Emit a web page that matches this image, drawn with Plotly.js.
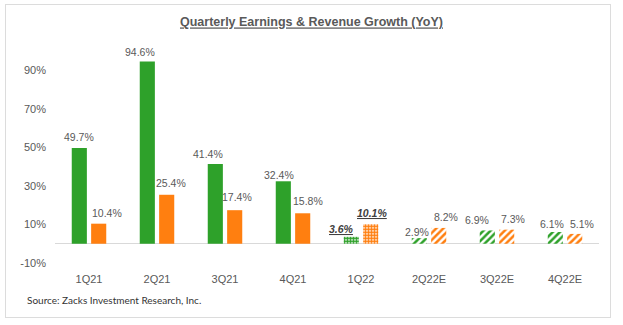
<!DOCTYPE html>
<html>
<head>
<meta charset="utf-8">
<script src="https://cdn.plot.ly/plotly-3.0.1.min.js"></script>
<style>
  html, body { margin: 0; padding: 0; background: #ffffff; }
  #wrap { position: relative; width: 623px; height: 325px; overflow: hidden; }
  #frame { position: absolute; left: 5px; top: 4px; width: 606px; height: 314px; border: 1px solid #dcdcdc; box-sizing: border-box; }
  #chart { position: absolute; left: 0; top: 0; width: 623px; height: 325px; }
</style>
</head>
<body>
<div id="wrap">
  <div id="frame"></div>
  <div id="chart"></div>
</div>
<script>
// ---- data ----
const quarters = ["1Q21", "2Q21", "3Q21", "4Q21", "1Q22", "2Q22E", "3Q22E", "4Q22E"];
const earningsGrowth = [49.7, 94.6, 41.4, 32.4, 3.6, 2.9, 6.9, 6.1];
const revenueGrowth = [10.4, 25.4, 17.4, 15.8, 10.1, 8.2, 7.3, 5.1];
const yTickValues = [-10, 10, 30, 50, 70, 90];
const yTickLabels = ["-10%", "10%", "30%", "50%", "70%", "90%"];
const actualFlags = ["solid", "solid", "solid", "solid", "reported", "estimate", "estimate", "estimate"];

// ---- style ----
const GREEN = "#2ea12a";
const ORANGE = "#ff7f10";
const TXT = "#595959";

function patShapes() {
  return actualFlags.map(f => f === "reported" ? "." : (f === "estimate" ? "/" : ""));
}
function patSize() {
  return actualFlags.map(f => f === "reported" ? 3 : 5);
}
function patSolid() {
  return actualFlags.map(f => f === "reported" ? 0.72 : 0.5);
}

function makeTrace(name, vals, base) {
  return {
    type: "bar", x: quarters, y: vals, name: name,
    marker: {
      color: base,
      line: { width: 0 },
      pattern: { shape: patShapes(), bgcolor: "#ffffff", size: patSize(), solidity: patSolid(), fillmode: "replace" }
    },
    hoverinfo: "skip", showlegend: false
  };
}
const earnTrace = makeTrace("Earnings", earningsGrowth, GREEN);
const revTrace = makeTrace("Revenue", revenueGrowth, ORANGE);

// label placement nudges (pixels), style only
const barHalfOffset = 9.75;
const earnDx = [0, -7, -7, -4.5, -9.5, -2.5, -10, -3.5];
const earnDy = [11, 9, 10, 6, 8, 6, 10, 8];
const revDx = [8, 4.5, 2.5, 5, 1, 7, 6.5, 7.5];
const revDy = [11, 12, 13, 12, 11, 11, 11, 10];

function fmt(v, i) {
  const s = v.toFixed(1) + "%";
  return actualFlags[i] === "reported" ? "<b><i><u>" + s + "</u></i></b>" : s;
}

const annotations = [];
quarters.forEach((q, i) => {
  const emph = actualFlags[i] === "reported";
  annotations.push({
    x: q, y: earningsGrowth[i], xref: "x", yref: "y",
    text: fmt(earningsGrowth[i], i), showarrow: false,
    xanchor: "center", yanchor: "middle",
    xshift: -barHalfOffset + earnDx[i], yshift: earnDy[i],
    font: { family: "Liberation Sans, Arial, sans-serif", size: 10.5, color: emph ? "#404040" : TXT }
  });
  annotations.push({
    x: q, y: revenueGrowth[i], xref: "x", yref: "y",
    text: fmt(revenueGrowth[i], i), showarrow: false,
    xanchor: "center", yanchor: "middle",
    xshift: barHalfOffset + revDx[i], yshift: revDy[i],
    font: { family: "Liberation Sans, Arial, sans-serif", size: 10.5, color: emph ? "#404040" : TXT }
  });
});
annotations.push({
  xref: "paper", yref: "paper", x: -0.055, y: -0.175,
  xanchor: "left", yanchor: "middle", showarrow: false,
  text: "Source: Zacks Investment Research, Inc.",
  font: { family: "Lato, Open Sans, sans-serif", size: 10, color: "#333333" }
});

const layout = {
  width: 623, height: 325,
  margin: { l: 55, r: 24, t: 51, b: 62, pad: 0 },
  paper_bgcolor: "rgba(0,0,0,0)",
  plot_bgcolor: "rgba(0,0,0,0)",
  font: { family: "Liberation Sans, Arial, sans-serif", color: TXT },
  title: {
    text: "Quarterly Earnings & Revenue Growth (YoY)",
    xref: "container", x: 0.5, xanchor: "center",
    yref: "container", y: 0.932, yanchor: "middle",
    font: { family: "Liberation Sans, Arial, sans-serif", size: 12.5, color: TXT, weight: "bold", lineposition: "under" }
  },
  barmode: "group",
  bargap: 0.43,
  bargroupgap: 0.22,
  xaxis: {
    type: "category", showline: false, showgrid: false, zeroline: false, ticks: "",
    tickfont: { size: 11, color: TXT }, ticklabelstandoff: 8, fixedrange: true
  },
  yaxis: {
    range: [-10, 100], tickvals: yTickValues, ticktext: yTickLabels,
    showgrid: false, showline: false, ticks: "",
    zeroline: true, zerolinecolor: "#d9d9d9", zerolinewidth: 1,
    tickfont: { size: 11, color: TXT }, ticklabelstandoff: 8, fixedrange: true
  },
  annotations: annotations
};

Plotly.newPlot("chart", [earnTrace, revTrace], layout, { staticPlot: true, displayModeBar: false });
</script>
</body>
</html>
